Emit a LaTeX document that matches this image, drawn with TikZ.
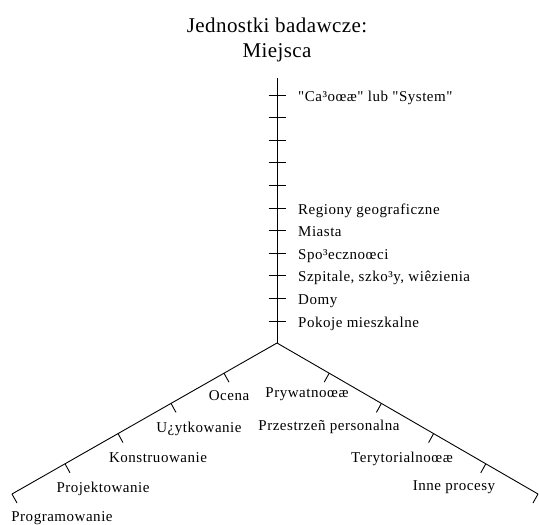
\documentclass[tikz,border=0pt]{standalone}
\usepackage{fontspec}
\setmainfont{Liberation Serif}
\newfontfamily\lfont{Liberation Serif}
\usetikzlibrary{calc}
\begin{document}
\begin{tikzpicture}[x=1pt,y=-1pt,
  axis/.style={line width=0.9pt, line join=round},
  lbl/.style={font=\lfont\fontsize{15}{17}\selectfont\addfontfeature{LetterSpace=3.5}, inner sep=0pt},
  ttl/.style={font=\lfont\fontsize{21}{25}\selectfont\addfontfeature{LetterSpace=2}, inner sep=0pt, anchor=base}]
\useasboundingbox (0,0) rectangle (539,525);
% title
\node[ttl] (t1) at (277,32) {Jednostki badawcze:};
\node[ttl] (t2) at (277,57) {Miejsca};
% axes
\coordinate (top) at (277,78);
\coordinate (fork) at (277,343);
\coordinate (lend) at (12,494);
\coordinate (rend) at (538,494);
\draw[axis] (top) -- (fork);
\draw[axis] (lend) -- (fork) -- (rend);
% vertical ticks
\foreach \i in {0,...,10} {
  \coordinate (v\i) at (277,95+22.6*\i);
  \draw[axis] ($(v\i)+(-8.5,0)$) -- ($(v\i)+(8.5,0)$);
}
% diagonal ticks
\foreach \k in {1,...,5} {
  \coordinate (l\k) at ($(fork)!\k/5!(lend)$);
  \coordinate (r\k) at ($(fork)!\k/5!(rend)$);
  \draw[axis] (l\k) -- ++(5,9);
  \draw[axis] (r\k) -- ++(-5,9);
}
% vertical labels
\node[lbl, anchor=base west] (a0) at ($(v0)+(21,6)$) {"Ca³oœæ" lub "System"};
\node[lbl, anchor=base west] (a5) at ($(v5)+(21,6)$) {Regiony geograficzne};
\node[lbl, anchor=base west] (a6) at ($(v6)+(21,6)$) {Miasta};
\node[lbl, anchor=base west] (a7) at ($(v7)+(21,6)$) {Spo³ecznoœci};
\node[lbl, anchor=base west] (a8) at ($(v8)+(21,6)$) {Szpitale, szko³y, wiêzienia};
\node[lbl, anchor=base west] (a9) at ($(v9)+(21,6)$) {Domy};
\node[lbl, anchor=base west] (a10) at ($(v10)+(21,6)$) {Pokoje mieszkalne};
% left labels
\node[lbl, anchor=base] (b1) at (229,400) {Ocena};
\node[lbl, anchor=base] (b2) at (199,432) {U¿ytkowanie};
\node[lbl, anchor=base] (b3) at (158,462) {Konstruowanie};
\node[lbl, anchor=base] (b4) at (103,492) {Projektowanie};
\node[lbl, anchor=base] (b5) at (62,521) {Programowanie};
% right labels
\node[lbl, anchor=base] (c1) at (307,397) {Prywatnoœæ};
\node[lbl, anchor=base] (c2) at (329,430) {Przestrzeñ personalna};
\node[lbl, anchor=base] (c3) at (402,462) {Terytorialnoœæ};
\node[lbl, anchor=base] (c4) at (454,490) {Inne procesy};
\end{tikzpicture}
\end{document}
